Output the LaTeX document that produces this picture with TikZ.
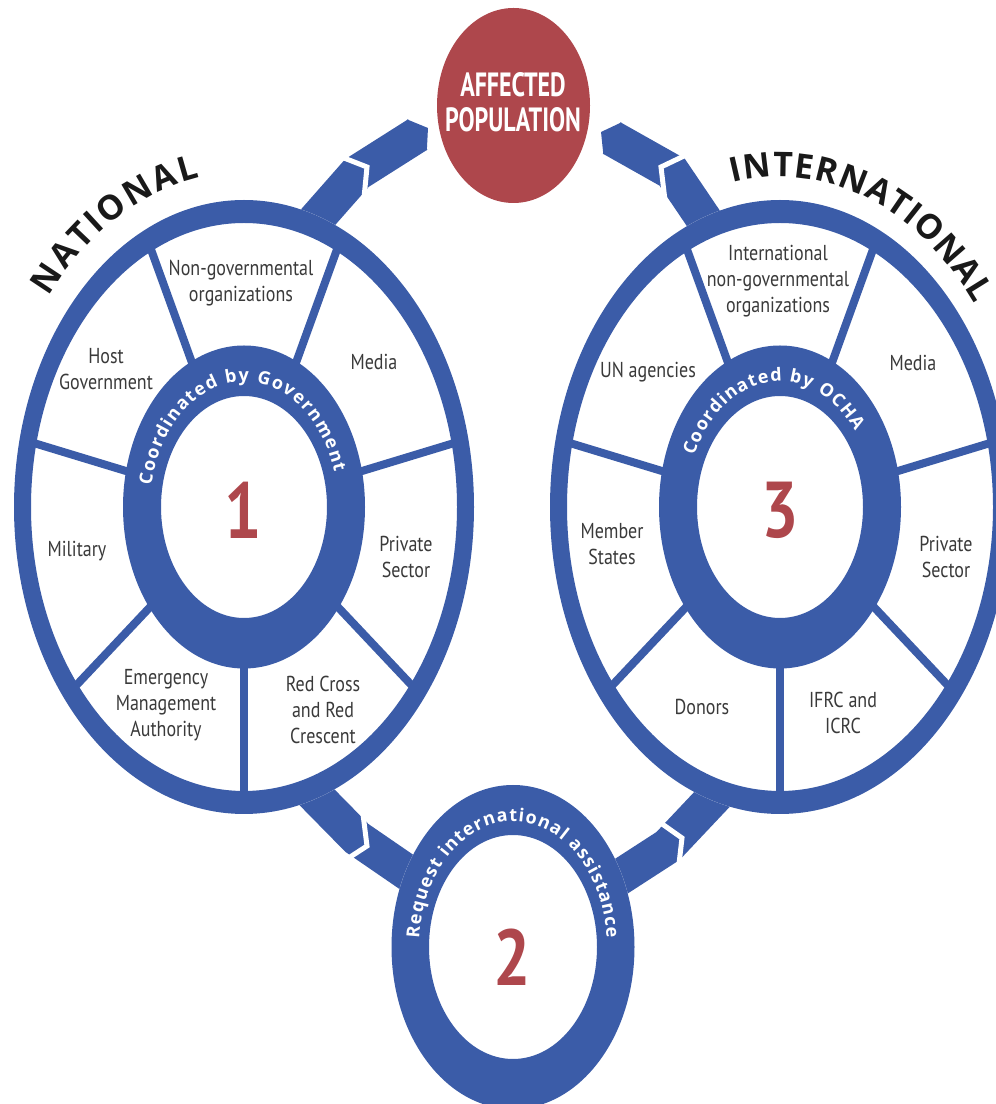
\documentclass[tikz,border=0pt]{standalone}
\usepackage{fontspec}
\setmainfont{PT Sans}
\newfontfamily\wheelfont{Open Sans}
\usetikzlibrary{
	shapes.geometric,
	arrows.meta,
	decorations,
	decorations.text}

\definecolor{ochablue}{HTML}{3B5CA8}
\definecolor{popred}{HTML}{AE474C}
\definecolor{labelgray}{HTML}{3A3A3A}
\newcommand{\arcfont}{\wheelfont\fontsize{34}{34}\selectfont\bfseries}
\newcommand{\ringfont}{\wheelfont\fontsize{18}{18}\selectfont\bfseries}

\begin{document}
\begin{tikzpicture}[x=1pt,y=1pt,every text node part/.style={align=center}]
		\tikzstyle{ring}=[fill=ochablue,even odd rule]
		\tikzstyle{spoke}=[draw=ochablue,line width=8pt]
		\tikzstyle{band}=[draw=ochablue,line width=36pt,line join=miter]
		\tikzstyle{notch}=[draw=white,line width=5pt,line join=miter,
							shorten <=-6pt,shorten >=-6pt]
		\tikzstyle{sector}=[text=labelgray,font=\fontsize{18}{21.5}\selectfont,
							yscale=1.2,transform shape,inner sep=0pt]
		\tikzstyle{bignum}=[text=popred,font=\fontsize{66}{66}\selectfont\bfseries,
							yscale=1.2,transform shape,inner sep=0pt]
		\tikzstyle{arctext}=[decorate,shift={(#1)}]

		\useasboundingbox (0,0) rectangle (996,1104);
		\clip (0,0) rectangle (996,1104);

		% centres
		\coordinate (nat) at (244,597);
		\coordinate (intl) at (780,597);
		\coordinate (req) at (513,157);

		% affected population
		\node[ellipse,fill=popred,minimum width=153pt,minimum height=195pt,
			inner sep=0pt] (pop) at (513.5,998.5) {};
		\node[text=white,font=\fontsize{24}{25}\selectfont\bfseries,
			yscale=1.4,transform shape] (poptxt) at (513,1002) {AFFECTED\\POPULATION};

		% arrow points
		\foreach \name/\x/\y in {a1s/298/864, a1j/357/931, a1t/428/976,
				a1g1/344/946, a1g2/367/937, a1g3/364/906,
				a2s/718/864, a2j/672/932, a2t/601/972,
				a2g1/684/948, a2g2/661/937, a2g3/664/912,
				a3s/300/324, a3j/357/266, a3e/440/209,
				a3g1/363/290, a3g2/367/258, a3g3/344/243,
				a4s/600/214, a4j/668/258, a4e/735/329,
				a4g1/665/278, a4g2/682/266, a4g3/679/240}
			\coordinate (\name) at (\x,\y);

		% arrows
		\draw[band,-{Triangle[length=13pt,width=36pt]}] (a1s) -- (a1j) -- (a1t);
		\draw[band,-{Triangle[length=13pt,width=36pt]}] (a2s) -- (a2j) -- (a2t);
		\draw[band] (a3s) -- (a3j) -- (a3e);
		\draw[band] (a4s) -- (a4j) -- (a4e);
		\foreach \a in {a1,a2,a3,a4}
			\draw[notch] (\a g1) -- (\a g2) -- (\a g3);

		% wheels
		\foreach \c in {nat,intl}{
			\fill[white] (\c) ellipse[x radius=230,y radius=307];
			\fill[ring] (\c) ellipse[x radius=230,y radius=307]
				(\c) ellipse[x radius=213,y radius=284];
			\foreach \a in {-90,-38.57,12.86,64.29,115.71,167.14,218.57}
				\draw[spoke,shift={(\c)}] (\a:110 and 147) -- (\a:222 and 296);
			\fill[ring] (\c) ellipse[x radius=121,y radius=161.5]
				(\c) ellipse[x radius=83,y radius=111];
		}
		\fill[white] (req) ellipse[x radius=121.5,y radius=162];
		\fill[ring] (req) ellipse[x radius=121.5,y radius=162]
			(req) ellipse[x radius=84,y radius=112];

		% numbers
		\node[bignum] (one) at (243,594) {1};
		\node[bignum] (two) at (512,147) {2};
		\node[bignum] (three) at (780,594) {3};

		% national sectors
		\foreach \name/\x/\y/\txt in {ngo/241/821/{Non-governmental\\organizations},
				host/106/735/{Host\\Government}, media1/374/742/Media,
				mil/77/553/Military, priv1/406/547/{Private\\Sector},
				ema/166/399/{Emergency\\Management\\Authority},
				redx/323/394/{Red Cross\\and Red\\Crescent}}
			\node[sector] (\name) at (\x,\y) {\txt};

		% international sectors
		\foreach \name/\x/\y/\txt in {ingo/778/823/{International\\non-governmental\\organizations},
				un/648/732/{UN agencies}, media3/913/741/Media,
				member/612/560/{Member\\States}, priv3/946/547/{Private\\Sector},
				donors/702/397/Donors, ifrc/843/391/{IFRC and\\ICRC}}
			\node[sector] (\name) at (\x,\y) {\txt};

		% arc texts
		\path[arctext=nat,decoration={text along path,text align={fit to path},
			text color=black!90,text={|\arcfont|NATIONAL}}]
			(141:251 and 335) arc[start angle=141,end angle=100,x radius=251,y radius=335];
		\path[arctext=intl,decoration={text along path,text align={fit to path},
			text color=black!90,text={|\arcfont|INTERNATIONAL}}]
			(101:247 and 330) arc[start angle=101,end angle=38,x radius=247,y radius=330];
		\path[arctext=nat,decoration={text along path,text align={fit to path},
			text color=white,text={|\ringfont|Coordinated by Government}}]
			(170:94 and 125.5) arc[start angle=170,end angle=16,x radius=94,y radius=125.5];
		\path[arctext=intl,decoration={text along path,text align={fit to path},
			text color=white,text={|\ringfont|Coordinated by OCHA}}]
			(156:94 and 125.5) arc[start angle=156,end angle=37,x radius=94,y radius=125.5];
		\path[arctext=req,decoration={text along path,text align={fit to path},
			text color=white,text={|\ringfont|Request international assistance}}]
			(176:94 and 125.5) arc[start angle=176,end angle=4,x radius=94,y radius=125.5];

	\end{tikzpicture}
\end{document}
